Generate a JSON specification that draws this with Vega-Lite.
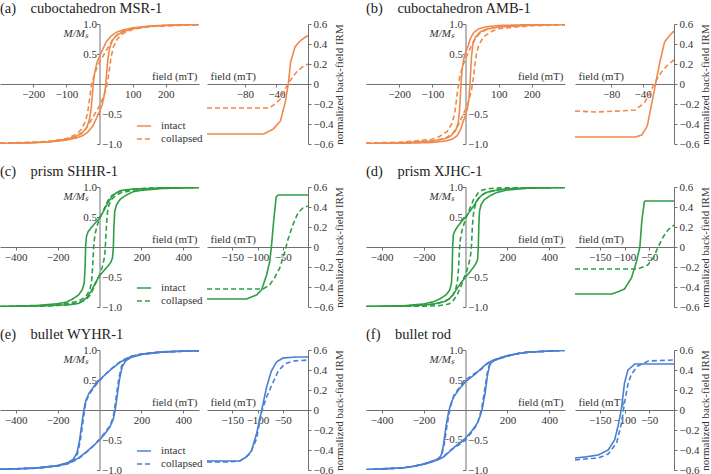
{
"$schema": "https://vega.github.io/schema/vega-lite/v6.json",
"padding": {"left": 0, "top": 0, "right": 0, "bottom": 0},
"config": {
 "font": "Liberation Serif",
 "view": {"stroke": null},
 "axis": {"domainColor": "#707070", "tickColor": "#707070", "labelColor": "#333333", "titleColor": "#333333", "labelFont": "Liberation Serif", "titleFont": "Liberation Serif", "labelFontSize": 11, "titleFontSize": 11, "titleFontWeight": "normal", "grid": false, "tickSize": 3, "labelFlush": false, "labelOverlap": false},
 "legend": {"labelFont": "Liberation Serif", "labelFontSize": 11, "labelColor": "#333333"},
 "title": {"anchor": "start", "fontSize": 14.5, "fontWeight": "normal", "font": "Liberation Serif", "color": "#222222", "offset": 2, "frame": "group"}
},
"datasets": {
"h": [
{"p":"a","s":"intact","r":"u","b":300,"m":0.995},{"p":"a","s":"intact","r":"u","b":200,"m":0.98},{"p":"a","s":"intact","r":"u","b":150,"m":0.965},{"p":"a","s":"intact","r":"u","b":100,"m":0.935},{"p":"a","s":"intact","r":"u","b":70,"m":0.9},{"p":"a","s":"intact","r":"u","b":50,"m":0.86},{"p":"a","s":"intact","r":"u","b":35,"m":0.8},{"p":"a","s":"intact","r":"u","b":20,"m":0.7},{"p":"a","s":"intact","r":"u","b":10,"m":0.58},{"p":"a","s":"intact","r":"u","b":0,"m":0.46},{"p":"a","s":"intact","r":"u","b":-8,"m":0.35},{"p":"a","s":"intact","r":"u","b":-14,"m":0.2},{"p":"a","s":"intact","r":"u","b":-18,"m":0.05},{"p":"a","s":"intact","r":"u","b":-21,"m":-0.15},{"p":"a","s":"intact","r":"u","b":-25,"m":-0.4},{"p":"a","s":"intact","r":"u","b":-30,"m":-0.58},{"p":"a","s":"intact","r":"u","b":-38,"m":-0.72},{"p":"a","s":"intact","r":"u","b":-50,"m":-0.8},{"p":"a","s":"intact","r":"u","b":-70,"m":-0.87},{"p":"a","s":"intact","r":"u","b":-100,"m":-0.92},{"p":"a","s":"intact","r":"u","b":-150,"m":-0.96},{"p":"a","s":"intact","r":"u","b":-200,"m":-0.975},{"p":"a","s":"intact","r":"u","b":-300,"m":-0.99},
{"p":"a","s":"intact","r":"l","b":-300,"m":-0.995},{"p":"a","s":"intact","r":"l","b":-200,"m":-0.98},{"p":"a","s":"intact","r":"l","b":-150,"m":-0.965},{"p":"a","s":"intact","r":"l","b":-100,"m":-0.935},{"p":"a","s":"intact","r":"l","b":-70,"m":-0.9},{"p":"a","s":"intact","r":"l","b":-50,"m":-0.86},{"p":"a","s":"intact","r":"l","b":-35,"m":-0.8},{"p":"a","s":"intact","r":"l","b":-20,"m":-0.7},{"p":"a","s":"intact","r":"l","b":-10,"m":-0.58},{"p":"a","s":"intact","r":"l","b":0,"m":-0.46},{"p":"a","s":"intact","r":"l","b":8,"m":-0.35},{"p":"a","s":"intact","r":"l","b":14,"m":-0.2},{"p":"a","s":"intact","r":"l","b":18,"m":-0.05},{"p":"a","s":"intact","r":"l","b":21,"m":0.15},{"p":"a","s":"intact","r":"l","b":25,"m":0.4},{"p":"a","s":"intact","r":"l","b":30,"m":0.58},{"p":"a","s":"intact","r":"l","b":38,"m":0.72},{"p":"a","s":"intact","r":"l","b":50,"m":0.8},{"p":"a","s":"intact","r":"l","b":70,"m":0.87},{"p":"a","s":"intact","r":"l","b":100,"m":0.92},{"p":"a","s":"intact","r":"l","b":150,"m":0.96},{"p":"a","s":"intact","r":"l","b":200,"m":0.975},{"p":"a","s":"intact","r":"l","b":300,"m":0.99},
{"p":"a","s":"collapsed","r":"u","b":300,"m":0.99},{"p":"a","s":"collapsed","r":"u","b":200,"m":0.975},{"p":"a","s":"collapsed","r":"u","b":150,"m":0.96},{"p":"a","s":"collapsed","r":"u","b":100,"m":0.93},{"p":"a","s":"collapsed","r":"u","b":70,"m":0.88},{"p":"a","s":"collapsed","r":"u","b":55,"m":0.83},{"p":"a","s":"collapsed","r":"u","b":40,"m":0.74},{"p":"a","s":"collapsed","r":"u","b":25,"m":0.6},{"p":"a","s":"collapsed","r":"u","b":10,"m":0.46},{"p":"a","s":"collapsed","r":"u","b":0,"m":0.36},{"p":"a","s":"collapsed","r":"u","b":-10,"m":0.24},{"p":"a","s":"collapsed","r":"u","b":-20,"m":0.08},{"p":"a","s":"collapsed","r":"u","b":-25,"m":-0.05},{"p":"a","s":"collapsed","r":"u","b":-30,"m":-0.25},{"p":"a","s":"collapsed","r":"u","b":-35,"m":-0.45},{"p":"a","s":"collapsed","r":"u","b":-42,"m":-0.62},{"p":"a","s":"collapsed","r":"u","b":-55,"m":-0.76},{"p":"a","s":"collapsed","r":"u","b":-70,"m":-0.84},{"p":"a","s":"collapsed","r":"u","b":-100,"m":-0.91},{"p":"a","s":"collapsed","r":"u","b":-150,"m":-0.955},{"p":"a","s":"collapsed","r":"u","b":-200,"m":-0.97},{"p":"a","s":"collapsed","r":"u","b":-300,"m":-0.985},
{"p":"a","s":"collapsed","r":"l","b":-300,"m":-0.99},{"p":"a","s":"collapsed","r":"l","b":-200,"m":-0.975},{"p":"a","s":"collapsed","r":"l","b":-150,"m":-0.96},{"p":"a","s":"collapsed","r":"l","b":-100,"m":-0.93},{"p":"a","s":"collapsed","r":"l","b":-70,"m":-0.88},{"p":"a","s":"collapsed","r":"l","b":-55,"m":-0.83},{"p":"a","s":"collapsed","r":"l","b":-40,"m":-0.74},{"p":"a","s":"collapsed","r":"l","b":-25,"m":-0.6},{"p":"a","s":"collapsed","r":"l","b":-10,"m":-0.46},{"p":"a","s":"collapsed","r":"l","b":0,"m":-0.36},{"p":"a","s":"collapsed","r":"l","b":10,"m":-0.24},{"p":"a","s":"collapsed","r":"l","b":20,"m":-0.08},{"p":"a","s":"collapsed","r":"l","b":25,"m":0.05},{"p":"a","s":"collapsed","r":"l","b":30,"m":0.25},{"p":"a","s":"collapsed","r":"l","b":35,"m":0.45},{"p":"a","s":"collapsed","r":"l","b":42,"m":0.62},{"p":"a","s":"collapsed","r":"l","b":55,"m":0.76},{"p":"a","s":"collapsed","r":"l","b":70,"m":0.84},{"p":"a","s":"collapsed","r":"l","b":100,"m":0.91},{"p":"a","s":"collapsed","r":"l","b":150,"m":0.955},{"p":"a","s":"collapsed","r":"l","b":200,"m":0.97},{"p":"a","s":"collapsed","r":"l","b":300,"m":0.985},
{"p":"b","s":"intact","r":"u","b":300,"m":0.998},{"p":"b","s":"intact","r":"u","b":200,"m":0.99},{"p":"b","s":"intact","r":"u","b":100,"m":0.975},{"p":"b","s":"intact","r":"u","b":60,"m":0.95},{"p":"b","s":"intact","r":"u","b":40,"m":0.92},{"p":"b","s":"intact","r":"u","b":25,"m":0.86},{"p":"b","s":"intact","r":"u","b":15,"m":0.76},{"p":"b","s":"intact","r":"u","b":8,"m":0.64},{"p":"b","s":"intact","r":"u","b":0,"m":0.52},{"p":"b","s":"intact","r":"u","b":-6,"m":0.4},{"p":"b","s":"intact","r":"u","b":-10,"m":0.25},{"p":"b","s":"intact","r":"u","b":-13,"m":0.05},{"p":"b","s":"intact","r":"u","b":-15,"m":-0.15},{"p":"b","s":"intact","r":"u","b":-18,"m":-0.45},{"p":"b","s":"intact","r":"u","b":-22,"m":-0.65},{"p":"b","s":"intact","r":"u","b":-30,"m":-0.78},{"p":"b","s":"intact","r":"u","b":-45,"m":-0.87},{"p":"b","s":"intact","r":"u","b":-60,"m":-0.91},{"p":"b","s":"intact","r":"u","b":-100,"m":-0.95},{"p":"b","s":"intact","r":"u","b":-200,"m":-0.98},{"p":"b","s":"intact","r":"u","b":-300,"m":-0.99},
{"p":"b","s":"intact","r":"l","b":-300,"m":-0.998},{"p":"b","s":"intact","r":"l","b":-200,"m":-0.99},{"p":"b","s":"intact","r":"l","b":-100,"m":-0.975},{"p":"b","s":"intact","r":"l","b":-60,"m":-0.95},{"p":"b","s":"intact","r":"l","b":-40,"m":-0.92},{"p":"b","s":"intact","r":"l","b":-25,"m":-0.86},{"p":"b","s":"intact","r":"l","b":-15,"m":-0.76},{"p":"b","s":"intact","r":"l","b":-8,"m":-0.64},{"p":"b","s":"intact","r":"l","b":0,"m":-0.52},{"p":"b","s":"intact","r":"l","b":6,"m":-0.4},{"p":"b","s":"intact","r":"l","b":10,"m":-0.25},{"p":"b","s":"intact","r":"l","b":13,"m":-0.05},{"p":"b","s":"intact","r":"l","b":15,"m":0.15},{"p":"b","s":"intact","r":"l","b":18,"m":0.45},{"p":"b","s":"intact","r":"l","b":22,"m":0.65},{"p":"b","s":"intact","r":"l","b":30,"m":0.78},{"p":"b","s":"intact","r":"l","b":45,"m":0.87},{"p":"b","s":"intact","r":"l","b":60,"m":0.91},{"p":"b","s":"intact","r":"l","b":100,"m":0.95},{"p":"b","s":"intact","r":"l","b":200,"m":0.98},{"p":"b","s":"intact","r":"l","b":300,"m":0.99},
{"p":"b","s":"collapsed","r":"u","b":300,"m":0.99},{"p":"b","s":"collapsed","r":"u","b":200,"m":0.98},{"p":"b","s":"collapsed","r":"u","b":100,"m":0.955},{"p":"b","s":"collapsed","r":"u","b":60,"m":0.9},{"p":"b","s":"collapsed","r":"u","b":40,"m":0.83},{"p":"b","s":"collapsed","r":"u","b":25,"m":0.72},{"p":"b","s":"collapsed","r":"u","b":12,"m":0.57},{"p":"b","s":"collapsed","r":"u","b":0,"m":0.42},{"p":"b","s":"collapsed","r":"u","b":-10,"m":0.28},{"p":"b","s":"collapsed","r":"u","b":-18,"m":0.1},{"p":"b","s":"collapsed","r":"u","b":-23,"m":-0.08},{"p":"b","s":"collapsed","r":"u","b":-28,"m":-0.3},{"p":"b","s":"collapsed","r":"u","b":-33,"m":-0.5},{"p":"b","s":"collapsed","r":"u","b":-40,"m":-0.65},{"p":"b","s":"collapsed","r":"u","b":-55,"m":-0.79},{"p":"b","s":"collapsed","r":"u","b":-80,"m":-0.88},{"p":"b","s":"collapsed","r":"u","b":-100,"m":-0.92},{"p":"b","s":"collapsed","r":"u","b":-150,"m":-0.95},{"p":"b","s":"collapsed","r":"u","b":-200,"m":-0.97},{"p":"b","s":"collapsed","r":"u","b":-300,"m":-0.985},
{"p":"b","s":"collapsed","r":"l","b":-300,"m":-0.99},{"p":"b","s":"collapsed","r":"l","b":-200,"m":-0.98},{"p":"b","s":"collapsed","r":"l","b":-100,"m":-0.955},{"p":"b","s":"collapsed","r":"l","b":-60,"m":-0.9},{"p":"b","s":"collapsed","r":"l","b":-40,"m":-0.83},{"p":"b","s":"collapsed","r":"l","b":-25,"m":-0.72},{"p":"b","s":"collapsed","r":"l","b":-12,"m":-0.57},{"p":"b","s":"collapsed","r":"l","b":0,"m":-0.42},{"p":"b","s":"collapsed","r":"l","b":10,"m":-0.28},{"p":"b","s":"collapsed","r":"l","b":18,"m":-0.1},{"p":"b","s":"collapsed","r":"l","b":23,"m":0.08},{"p":"b","s":"collapsed","r":"l","b":28,"m":0.3},{"p":"b","s":"collapsed","r":"l","b":33,"m":0.5},{"p":"b","s":"collapsed","r":"l","b":40,"m":0.65},{"p":"b","s":"collapsed","r":"l","b":55,"m":0.79},{"p":"b","s":"collapsed","r":"l","b":80,"m":0.88},{"p":"b","s":"collapsed","r":"l","b":100,"m":0.92},{"p":"b","s":"collapsed","r":"l","b":150,"m":0.95},{"p":"b","s":"collapsed","r":"l","b":200,"m":0.97},{"p":"b","s":"collapsed","r":"l","b":300,"m":0.985},
{"p":"c","s":"intact","r":"u","b":475,"m":0.995},{"p":"c","s":"intact","r":"u","b":300,"m":0.985},{"p":"c","s":"intact","r":"u","b":200,"m":0.97},{"p":"c","s":"intact","r":"u","b":160,"m":0.965},{"p":"c","s":"intact","r":"u","b":130,"m":0.955},{"p":"c","s":"intact","r":"u","b":100,"m":0.94},{"p":"c","s":"intact","r":"u","b":80,"m":0.9},{"p":"c","s":"intact","r":"u","b":60,"m":0.84},{"p":"c","s":"intact","r":"u","b":40,"m":0.74},{"p":"c","s":"intact","r":"u","b":20,"m":0.6},{"p":"c","s":"intact","r":"u","b":0,"m":0.48},{"p":"c","s":"intact","r":"u","b":-20,"m":0.4},{"p":"c","s":"intact","r":"u","b":-40,"m":0.32},{"p":"c","s":"intact","r":"u","b":-55,"m":0.25},{"p":"c","s":"intact","r":"u","b":-62,"m":0.18},{"p":"c","s":"intact","r":"u","b":-66,"m":0.02},{"p":"c","s":"intact","r":"u","b":-69,"m":-0.35},{"p":"c","s":"intact","r":"u","b":-73,"m":-0.6},{"p":"c","s":"intact","r":"u","b":-82,"m":-0.71},{"p":"c","s":"intact","r":"u","b":-100,"m":-0.8},{"p":"c","s":"intact","r":"u","b":-130,"m":-0.87},{"p":"c","s":"intact","r":"u","b":-160,"m":-0.92},{"p":"c","s":"intact","r":"u","b":-200,"m":-0.945},{"p":"c","s":"intact","r":"u","b":-300,"m":-0.975},{"p":"c","s":"intact","r":"u","b":-475,"m":-0.99},
{"p":"c","s":"intact","r":"l","b":-475,"m":-0.995},{"p":"c","s":"intact","r":"l","b":-300,"m":-0.985},{"p":"c","s":"intact","r":"l","b":-200,"m":-0.97},{"p":"c","s":"intact","r":"l","b":-160,"m":-0.965},{"p":"c","s":"intact","r":"l","b":-130,"m":-0.955},{"p":"c","s":"intact","r":"l","b":-100,"m":-0.94},{"p":"c","s":"intact","r":"l","b":-80,"m":-0.9},{"p":"c","s":"intact","r":"l","b":-60,"m":-0.84},{"p":"c","s":"intact","r":"l","b":-40,"m":-0.74},{"p":"c","s":"intact","r":"l","b":-20,"m":-0.6},{"p":"c","s":"intact","r":"l","b":0,"m":-0.48},{"p":"c","s":"intact","r":"l","b":20,"m":-0.4},{"p":"c","s":"intact","r":"l","b":40,"m":-0.32},{"p":"c","s":"intact","r":"l","b":55,"m":-0.25},{"p":"c","s":"intact","r":"l","b":62,"m":-0.18},{"p":"c","s":"intact","r":"l","b":66,"m":-0.02},{"p":"c","s":"intact","r":"l","b":69,"m":0.35},{"p":"c","s":"intact","r":"l","b":73,"m":0.6},{"p":"c","s":"intact","r":"l","b":82,"m":0.71},{"p":"c","s":"intact","r":"l","b":100,"m":0.8},{"p":"c","s":"intact","r":"l","b":130,"m":0.87},{"p":"c","s":"intact","r":"l","b":160,"m":0.92},{"p":"c","s":"intact","r":"l","b":200,"m":0.945},{"p":"c","s":"intact","r":"l","b":300,"m":0.975},{"p":"c","s":"intact","r":"l","b":475,"m":0.99},
{"p":"c","s":"collapsed","r":"u","b":475,"m":0.995},{"p":"c","s":"collapsed","r":"u","b":300,"m":0.99},{"p":"c","s":"collapsed","r":"u","b":200,"m":0.975},{"p":"c","s":"collapsed","r":"u","b":150,"m":0.96},{"p":"c","s":"collapsed","r":"u","b":100,"m":0.93},{"p":"c","s":"collapsed","r":"u","b":80,"m":0.9},{"p":"c","s":"collapsed","r":"u","b":60,"m":0.86},{"p":"c","s":"collapsed","r":"u","b":45,"m":0.8},{"p":"c","s":"collapsed","r":"u","b":30,"m":0.7},{"p":"c","s":"collapsed","r":"u","b":15,"m":0.58},{"p":"c","s":"collapsed","r":"u","b":0,"m":0.47},{"p":"c","s":"collapsed","r":"u","b":-12,"m":0.35},{"p":"c","s":"collapsed","r":"u","b":-22,"m":0.2},{"p":"c","s":"collapsed","r":"u","b":-27,"m":0.05},{"p":"c","s":"collapsed","r":"u","b":-30,"m":-0.15},{"p":"c","s":"collapsed","r":"u","b":-34,"m":-0.4},{"p":"c","s":"collapsed","r":"u","b":-38,"m":-0.58},{"p":"c","s":"collapsed","r":"u","b":-45,"m":-0.7},{"p":"c","s":"collapsed","r":"u","b":-60,"m":-0.8},{"p":"c","s":"collapsed","r":"u","b":-80,"m":-0.86},{"p":"c","s":"collapsed","r":"u","b":-100,"m":-0.9},{"p":"c","s":"collapsed","r":"u","b":-150,"m":-0.94},{"p":"c","s":"collapsed","r":"u","b":-200,"m":-0.965},{"p":"c","s":"collapsed","r":"u","b":-300,"m":-0.985},{"p":"c","s":"collapsed","r":"u","b":-475,"m":-0.995},
{"p":"c","s":"collapsed","r":"l","b":-475,"m":-0.995},{"p":"c","s":"collapsed","r":"l","b":-300,"m":-0.99},{"p":"c","s":"collapsed","r":"l","b":-200,"m":-0.975},{"p":"c","s":"collapsed","r":"l","b":-150,"m":-0.96},{"p":"c","s":"collapsed","r":"l","b":-100,"m":-0.93},{"p":"c","s":"collapsed","r":"l","b":-80,"m":-0.9},{"p":"c","s":"collapsed","r":"l","b":-60,"m":-0.86},{"p":"c","s":"collapsed","r":"l","b":-45,"m":-0.8},{"p":"c","s":"collapsed","r":"l","b":-30,"m":-0.7},{"p":"c","s":"collapsed","r":"l","b":-15,"m":-0.58},{"p":"c","s":"collapsed","r":"l","b":0,"m":-0.47},{"p":"c","s":"collapsed","r":"l","b":12,"m":-0.35},{"p":"c","s":"collapsed","r":"l","b":22,"m":-0.2},{"p":"c","s":"collapsed","r":"l","b":27,"m":-0.05},{"p":"c","s":"collapsed","r":"l","b":30,"m":0.15},{"p":"c","s":"collapsed","r":"l","b":34,"m":0.4},{"p":"c","s":"collapsed","r":"l","b":38,"m":0.58},{"p":"c","s":"collapsed","r":"l","b":45,"m":0.7},{"p":"c","s":"collapsed","r":"l","b":60,"m":0.8},{"p":"c","s":"collapsed","r":"l","b":80,"m":0.86},{"p":"c","s":"collapsed","r":"l","b":100,"m":0.9},{"p":"c","s":"collapsed","r":"l","b":150,"m":0.94},{"p":"c","s":"collapsed","r":"l","b":200,"m":0.965},{"p":"c","s":"collapsed","r":"l","b":300,"m":0.985},{"p":"c","s":"collapsed","r":"l","b":475,"m":0.995},
{"p":"d","s":"intact","r":"u","b":475,"m":0.995},{"p":"d","s":"intact","r":"u","b":300,"m":0.985},{"p":"d","s":"intact","r":"u","b":200,"m":0.97},{"p":"d","s":"intact","r":"u","b":150,"m":0.95},{"p":"d","s":"intact","r":"u","b":100,"m":0.91},{"p":"d","s":"intact","r":"u","b":80,"m":0.87},{"p":"d","s":"intact","r":"u","b":60,"m":0.8},{"p":"d","s":"intact","r":"u","b":40,"m":0.69},{"p":"d","s":"intact","r":"u","b":20,"m":0.59},{"p":"d","s":"intact","r":"u","b":0,"m":0.5},{"p":"d","s":"intact","r":"u","b":-20,"m":0.42},{"p":"d","s":"intact","r":"u","b":-40,"m":0.33},{"p":"d","s":"intact","r":"u","b":-52,"m":0.26},{"p":"d","s":"intact","r":"u","b":-58,"m":0.2},{"p":"d","s":"intact","r":"u","b":-61,"m":0.02},{"p":"d","s":"intact","r":"u","b":-64,"m":-0.4},{"p":"d","s":"intact","r":"u","b":-67,"m":-0.6},{"p":"d","s":"intact","r":"u","b":-75,"m":-0.71},{"p":"d","s":"intact","r":"u","b":-90,"m":-0.79},{"p":"d","s":"intact","r":"u","b":-120,"m":-0.86},{"p":"d","s":"intact","r":"u","b":-150,"m":-0.91},{"p":"d","s":"intact","r":"u","b":-200,"m":-0.95},{"p":"d","s":"intact","r":"u","b":-300,"m":-0.98},{"p":"d","s":"intact","r":"u","b":-475,"m":-0.99},
{"p":"d","s":"intact","r":"l","b":-475,"m":-0.995},{"p":"d","s":"intact","r":"l","b":-300,"m":-0.985},{"p":"d","s":"intact","r":"l","b":-200,"m":-0.97},{"p":"d","s":"intact","r":"l","b":-150,"m":-0.95},{"p":"d","s":"intact","r":"l","b":-100,"m":-0.91},{"p":"d","s":"intact","r":"l","b":-80,"m":-0.87},{"p":"d","s":"intact","r":"l","b":-60,"m":-0.8},{"p":"d","s":"intact","r":"l","b":-40,"m":-0.69},{"p":"d","s":"intact","r":"l","b":-20,"m":-0.59},{"p":"d","s":"intact","r":"l","b":0,"m":-0.5},{"p":"d","s":"intact","r":"l","b":20,"m":-0.42},{"p":"d","s":"intact","r":"l","b":40,"m":-0.33},{"p":"d","s":"intact","r":"l","b":52,"m":-0.26},{"p":"d","s":"intact","r":"l","b":58,"m":-0.2},{"p":"d","s":"intact","r":"l","b":61,"m":-0.02},{"p":"d","s":"intact","r":"l","b":64,"m":0.4},{"p":"d","s":"intact","r":"l","b":67,"m":0.6},{"p":"d","s":"intact","r":"l","b":75,"m":0.71},{"p":"d","s":"intact","r":"l","b":90,"m":0.79},{"p":"d","s":"intact","r":"l","b":120,"m":0.86},{"p":"d","s":"intact","r":"l","b":150,"m":0.91},{"p":"d","s":"intact","r":"l","b":200,"m":0.95},{"p":"d","s":"intact","r":"l","b":300,"m":0.98},{"p":"d","s":"intact","r":"l","b":475,"m":0.99},
{"p":"d","s":"collapsed","r":"u","b":475,"m":0.998},{"p":"d","s":"collapsed","r":"u","b":300,"m":0.995},{"p":"d","s":"collapsed","r":"u","b":200,"m":0.99},{"p":"d","s":"collapsed","r":"u","b":120,"m":0.975},{"p":"d","s":"collapsed","r":"u","b":80,"m":0.95},{"p":"d","s":"collapsed","r":"u","b":60,"m":0.9},{"p":"d","s":"collapsed","r":"u","b":40,"m":0.8},{"p":"d","s":"collapsed","r":"u","b":25,"m":0.68},{"p":"d","s":"collapsed","r":"u","b":10,"m":0.55},{"p":"d","s":"collapsed","r":"u","b":0,"m":0.46},{"p":"d","s":"collapsed","r":"u","b":-15,"m":0.3},{"p":"d","s":"collapsed","r":"u","b":-25,"m":0.12},{"p":"d","s":"collapsed","r":"u","b":-29,"m":-0.05},{"p":"d","s":"collapsed","r":"u","b":-33,"m":-0.35},{"p":"d","s":"collapsed","r":"u","b":-38,"m":-0.55},{"p":"d","s":"collapsed","r":"u","b":-45,"m":-0.68},{"p":"d","s":"collapsed","r":"u","b":-60,"m":-0.8},{"p":"d","s":"collapsed","r":"u","b":-80,"m":-0.87},{"p":"d","s":"collapsed","r":"u","b":-100,"m":-0.91},{"p":"d","s":"collapsed","r":"u","b":-150,"m":-0.95},{"p":"d","s":"collapsed","r":"u","b":-200,"m":-0.97},{"p":"d","s":"collapsed","r":"u","b":-300,"m":-0.985},{"p":"d","s":"collapsed","r":"u","b":-475,"m":-0.995},
{"p":"d","s":"collapsed","r":"l","b":-475,"m":-0.998},{"p":"d","s":"collapsed","r":"l","b":-300,"m":-0.995},{"p":"d","s":"collapsed","r":"l","b":-200,"m":-0.99},{"p":"d","s":"collapsed","r":"l","b":-120,"m":-0.975},{"p":"d","s":"collapsed","r":"l","b":-80,"m":-0.95},{"p":"d","s":"collapsed","r":"l","b":-60,"m":-0.9},{"p":"d","s":"collapsed","r":"l","b":-40,"m":-0.8},{"p":"d","s":"collapsed","r":"l","b":-25,"m":-0.68},{"p":"d","s":"collapsed","r":"l","b":-10,"m":-0.55},{"p":"d","s":"collapsed","r":"l","b":0,"m":-0.46},{"p":"d","s":"collapsed","r":"l","b":15,"m":-0.3},{"p":"d","s":"collapsed","r":"l","b":25,"m":-0.12},{"p":"d","s":"collapsed","r":"l","b":29,"m":0.05},{"p":"d","s":"collapsed","r":"l","b":33,"m":0.35},{"p":"d","s":"collapsed","r":"l","b":38,"m":0.55},{"p":"d","s":"collapsed","r":"l","b":45,"m":0.68},{"p":"d","s":"collapsed","r":"l","b":60,"m":0.8},{"p":"d","s":"collapsed","r":"l","b":80,"m":0.87},{"p":"d","s":"collapsed","r":"l","b":100,"m":0.91},{"p":"d","s":"collapsed","r":"l","b":150,"m":0.95},{"p":"d","s":"collapsed","r":"l","b":200,"m":0.97},{"p":"d","s":"collapsed","r":"l","b":300,"m":0.985},{"p":"d","s":"collapsed","r":"l","b":475,"m":0.995},
{"p":"e","s":"intact","r":"u","b":475,"m":0.99},{"p":"e","s":"intact","r":"u","b":300,"m":0.97},{"p":"e","s":"intact","r":"u","b":200,"m":0.93},{"p":"e","s":"intact","r":"u","b":150,"m":0.89},{"p":"e","s":"intact","r":"u","b":125,"m":0.845},{"p":"e","s":"intact","r":"u","b":100,"m":0.8},{"p":"e","s":"intact","r":"u","b":60,"m":0.69},{"p":"e","s":"intact","r":"u","b":30,"m":0.6},{"p":"e","s":"intact","r":"u","b":0,"m":0.5},{"p":"e","s":"intact","r":"u","b":-25,"m":0.4},{"p":"e","s":"intact","r":"u","b":-50,"m":0.28},{"p":"e","s":"intact","r":"u","b":-65,"m":0.16},{"p":"e","s":"intact","r":"u","b":-75,"m":0.0},{"p":"e","s":"intact","r":"u","b":-85,"m":-0.25},{"p":"e","s":"intact","r":"u","b":-95,"m":-0.5},{"p":"e","s":"intact","r":"u","b":-108,"m":-0.72},{"p":"e","s":"intact","r":"u","b":-125,"m":-0.82},{"p":"e","s":"intact","r":"u","b":-150,"m":-0.875},{"p":"e","s":"intact","r":"u","b":-200,"m":-0.925},{"p":"e","s":"intact","r":"u","b":-300,"m":-0.965},{"p":"e","s":"intact","r":"u","b":-475,"m":-0.99},
{"p":"e","s":"intact","r":"l","b":-475,"m":-0.99},{"p":"e","s":"intact","r":"l","b":-300,"m":-0.97},{"p":"e","s":"intact","r":"l","b":-200,"m":-0.93},{"p":"e","s":"intact","r":"l","b":-150,"m":-0.89},{"p":"e","s":"intact","r":"l","b":-125,"m":-0.845},{"p":"e","s":"intact","r":"l","b":-100,"m":-0.8},{"p":"e","s":"intact","r":"l","b":-60,"m":-0.69},{"p":"e","s":"intact","r":"l","b":-30,"m":-0.6},{"p":"e","s":"intact","r":"l","b":0,"m":-0.5},{"p":"e","s":"intact","r":"l","b":25,"m":-0.4},{"p":"e","s":"intact","r":"l","b":50,"m":-0.28},{"p":"e","s":"intact","r":"l","b":65,"m":-0.16},{"p":"e","s":"intact","r":"l","b":75,"m":0.0},{"p":"e","s":"intact","r":"l","b":85,"m":0.25},{"p":"e","s":"intact","r":"l","b":95,"m":0.5},{"p":"e","s":"intact","r":"l","b":108,"m":0.72},{"p":"e","s":"intact","r":"l","b":125,"m":0.82},{"p":"e","s":"intact","r":"l","b":150,"m":0.875},{"p":"e","s":"intact","r":"l","b":200,"m":0.925},{"p":"e","s":"intact","r":"l","b":300,"m":0.965},{"p":"e","s":"intact","r":"l","b":475,"m":0.99},
{"p":"e","s":"collapsed","r":"u","b":475,"m":0.99},{"p":"e","s":"collapsed","r":"u","b":300,"m":0.97},{"p":"e","s":"collapsed","r":"u","b":200,"m":0.935},{"p":"e","s":"collapsed","r":"u","b":150,"m":0.895},{"p":"e","s":"collapsed","r":"u","b":125,"m":0.855},{"p":"e","s":"collapsed","r":"u","b":100,"m":0.81},{"p":"e","s":"collapsed","r":"u","b":60,"m":0.7},{"p":"e","s":"collapsed","r":"u","b":30,"m":0.6},{"p":"e","s":"collapsed","r":"u","b":0,"m":0.49},{"p":"e","s":"collapsed","r":"u","b":-25,"m":0.38},{"p":"e","s":"collapsed","r":"u","b":-50,"m":0.26},{"p":"e","s":"collapsed","r":"u","b":-65,"m":0.13},{"p":"e","s":"collapsed","r":"u","b":-72,"m":-0.02},{"p":"e","s":"collapsed","r":"u","b":-82,"m":-0.28},{"p":"e","s":"collapsed","r":"u","b":-92,"m":-0.52},{"p":"e","s":"collapsed","r":"u","b":-105,"m":-0.73},{"p":"e","s":"collapsed","r":"u","b":-125,"m":-0.835},{"p":"e","s":"collapsed","r":"u","b":-150,"m":-0.885},{"p":"e","s":"collapsed","r":"u","b":-200,"m":-0.93},{"p":"e","s":"collapsed","r":"u","b":-300,"m":-0.965},{"p":"e","s":"collapsed","r":"u","b":-475,"m":-0.99},
{"p":"e","s":"collapsed","r":"l","b":-475,"m":-0.99},{"p":"e","s":"collapsed","r":"l","b":-300,"m":-0.97},{"p":"e","s":"collapsed","r":"l","b":-200,"m":-0.935},{"p":"e","s":"collapsed","r":"l","b":-150,"m":-0.895},{"p":"e","s":"collapsed","r":"l","b":-125,"m":-0.855},{"p":"e","s":"collapsed","r":"l","b":-100,"m":-0.81},{"p":"e","s":"collapsed","r":"l","b":-60,"m":-0.7},{"p":"e","s":"collapsed","r":"l","b":-30,"m":-0.6},{"p":"e","s":"collapsed","r":"l","b":0,"m":-0.49},{"p":"e","s":"collapsed","r":"l","b":25,"m":-0.38},{"p":"e","s":"collapsed","r":"l","b":50,"m":-0.26},{"p":"e","s":"collapsed","r":"l","b":65,"m":-0.13},{"p":"e","s":"collapsed","r":"l","b":72,"m":0.02},{"p":"e","s":"collapsed","r":"l","b":82,"m":0.28},{"p":"e","s":"collapsed","r":"l","b":92,"m":0.52},{"p":"e","s":"collapsed","r":"l","b":105,"m":0.73},{"p":"e","s":"collapsed","r":"l","b":125,"m":0.835},{"p":"e","s":"collapsed","r":"l","b":150,"m":0.885},{"p":"e","s":"collapsed","r":"l","b":200,"m":0.93},{"p":"e","s":"collapsed","r":"l","b":300,"m":0.965},{"p":"e","s":"collapsed","r":"l","b":475,"m":0.99},
{"p":"f","s":"intact","r":"u","b":475,"m":0.995},{"p":"f","s":"intact","r":"u","b":300,"m":0.965},{"p":"f","s":"intact","r":"u","b":250,"m":0.94},{"p":"f","s":"intact","r":"u","b":200,"m":0.905},{"p":"f","s":"intact","r":"u","b":170,"m":0.875},{"p":"f","s":"intact","r":"u","b":136,"m":0.835},{"p":"f","s":"intact","r":"u","b":120,"m":0.81},{"p":"f","s":"intact","r":"u","b":100,"m":0.77},{"p":"f","s":"intact","r":"u","b":72,"m":0.68},{"p":"f","s":"intact","r":"u","b":40,"m":0.58},{"p":"f","s":"intact","r":"u","b":0,"m":0.47},{"p":"f","s":"intact","r":"u","b":-30,"m":0.35},{"p":"f","s":"intact","r":"u","b":-56,"m":0.22},{"p":"f","s":"intact","r":"u","b":-70,"m":0.1},{"p":"f","s":"intact","r":"u","b":-80,"m":-0.02},{"p":"f","s":"intact","r":"u","b":-93,"m":-0.27},{"p":"f","s":"intact","r":"u","b":-106,"m":-0.6},{"p":"f","s":"intact","r":"u","b":-115,"m":-0.74},{"p":"f","s":"intact","r":"u","b":-122,"m":-0.785},{"p":"f","s":"intact","r":"u","b":-136,"m":-0.825},{"p":"f","s":"intact","r":"u","b":-170,"m":-0.865},{"p":"f","s":"intact","r":"u","b":-200,"m":-0.9},{"p":"f","s":"intact","r":"u","b":-250,"m":-0.94},{"p":"f","s":"intact","r":"u","b":-300,"m":-0.965},{"p":"f","s":"intact","r":"u","b":-475,"m":-0.995},
{"p":"f","s":"intact","r":"l","b":-475,"m":-0.995},{"p":"f","s":"intact","r":"l","b":-300,"m":-0.965},{"p":"f","s":"intact","r":"l","b":-250,"m":-0.94},{"p":"f","s":"intact","r":"l","b":-200,"m":-0.905},{"p":"f","s":"intact","r":"l","b":-170,"m":-0.875},{"p":"f","s":"intact","r":"l","b":-136,"m":-0.835},{"p":"f","s":"intact","r":"l","b":-120,"m":-0.81},{"p":"f","s":"intact","r":"l","b":-100,"m":-0.77},{"p":"f","s":"intact","r":"l","b":-72,"m":-0.68},{"p":"f","s":"intact","r":"l","b":-40,"m":-0.58},{"p":"f","s":"intact","r":"l","b":0,"m":-0.47},{"p":"f","s":"intact","r":"l","b":30,"m":-0.35},{"p":"f","s":"intact","r":"l","b":56,"m":-0.22},{"p":"f","s":"intact","r":"l","b":70,"m":-0.1},{"p":"f","s":"intact","r":"l","b":80,"m":0.02},{"p":"f","s":"intact","r":"l","b":93,"m":0.27},{"p":"f","s":"intact","r":"l","b":106,"m":0.6},{"p":"f","s":"intact","r":"l","b":115,"m":0.74},{"p":"f","s":"intact","r":"l","b":122,"m":0.785},{"p":"f","s":"intact","r":"l","b":136,"m":0.825},{"p":"f","s":"intact","r":"l","b":170,"m":0.865},{"p":"f","s":"intact","r":"l","b":200,"m":0.9},{"p":"f","s":"intact","r":"l","b":250,"m":0.94},{"p":"f","s":"intact","r":"l","b":300,"m":0.965},{"p":"f","s":"intact","r":"l","b":475,"m":0.995},
{"p":"f","s":"collapsed","r":"u","b":475,"m":0.995},{"p":"f","s":"collapsed","r":"u","b":300,"m":0.965},{"p":"f","s":"collapsed","r":"u","b":250,"m":0.94},{"p":"f","s":"collapsed","r":"u","b":200,"m":0.905},{"p":"f","s":"collapsed","r":"u","b":170,"m":0.875},{"p":"f","s":"collapsed","r":"u","b":136,"m":0.835},{"p":"f","s":"collapsed","r":"u","b":120,"m":0.805},{"p":"f","s":"collapsed","r":"u","b":100,"m":0.76},{"p":"f","s":"collapsed","r":"u","b":72,"m":0.67},{"p":"f","s":"collapsed","r":"u","b":40,"m":0.6},{"p":"f","s":"collapsed","r":"u","b":0,"m":0.5},{"p":"f","s":"collapsed","r":"u","b":-30,"m":0.37},{"p":"f","s":"collapsed","r":"u","b":-56,"m":0.24},{"p":"f","s":"collapsed","r":"u","b":-68,"m":0.1},{"p":"f","s":"collapsed","r":"u","b":-78,"m":-0.05},{"p":"f","s":"collapsed","r":"u","b":-90,"m":-0.3},{"p":"f","s":"collapsed","r":"u","b":-103,"m":-0.6},{"p":"f","s":"collapsed","r":"u","b":-113,"m":-0.74},{"p":"f","s":"collapsed","r":"u","b":-122,"m":-0.79},{"p":"f","s":"collapsed","r":"u","b":-136,"m":-0.825},{"p":"f","s":"collapsed","r":"u","b":-170,"m":-0.865},{"p":"f","s":"collapsed","r":"u","b":-200,"m":-0.9},{"p":"f","s":"collapsed","r":"u","b":-250,"m":-0.94},{"p":"f","s":"collapsed","r":"u","b":-300,"m":-0.965},{"p":"f","s":"collapsed","r":"u","b":-475,"m":-0.995},
{"p":"f","s":"collapsed","r":"l","b":-475,"m":-0.995},{"p":"f","s":"collapsed","r":"l","b":-300,"m":-0.965},{"p":"f","s":"collapsed","r":"l","b":-250,"m":-0.94},{"p":"f","s":"collapsed","r":"l","b":-200,"m":-0.905},{"p":"f","s":"collapsed","r":"l","b":-170,"m":-0.875},{"p":"f","s":"collapsed","r":"l","b":-136,"m":-0.835},{"p":"f","s":"collapsed","r":"l","b":-120,"m":-0.805},{"p":"f","s":"collapsed","r":"l","b":-100,"m":-0.76},{"p":"f","s":"collapsed","r":"l","b":-72,"m":-0.67},{"p":"f","s":"collapsed","r":"l","b":-40,"m":-0.6},{"p":"f","s":"collapsed","r":"l","b":0,"m":-0.5},{"p":"f","s":"collapsed","r":"l","b":30,"m":-0.37},{"p":"f","s":"collapsed","r":"l","b":56,"m":-0.24},{"p":"f","s":"collapsed","r":"l","b":68,"m":-0.1},{"p":"f","s":"collapsed","r":"l","b":78,"m":0.05},{"p":"f","s":"collapsed","r":"l","b":90,"m":0.3},{"p":"f","s":"collapsed","r":"l","b":103,"m":0.6},{"p":"f","s":"collapsed","r":"l","b":113,"m":0.74},{"p":"f","s":"collapsed","r":"l","b":122,"m":0.79},{"p":"f","s":"collapsed","r":"l","b":136,"m":0.825},{"p":"f","s":"collapsed","r":"l","b":170,"m":0.865},{"p":"f","s":"collapsed","r":"l","b":200,"m":0.9},{"p":"f","s":"collapsed","r":"l","b":250,"m":0.94},{"p":"f","s":"collapsed","r":"l","b":300,"m":0.965},{"p":"f","s":"collapsed","r":"l","b":475,"m":0.995}
],
"f": [
{"p":"a","s":"intact","b":-128,"m":-0.5},{"p":"a","s":"intact","b":-100,"m":-0.5},{"p":"a","s":"intact","b":-70,"m":-0.5},{"p":"a","s":"intact","b":-56,"m":-0.5},{"p":"a","s":"intact","b":-44,"m":-0.45},{"p":"a","s":"intact","b":-35,"m":-0.37},{"p":"a","s":"intact","b":-29,"m":-0.19},{"p":"a","s":"intact","b":-25,"m":0.0},{"p":"a","s":"intact","b":-22,"m":0.22},{"p":"a","s":"intact","b":-16.5,"m":0.37},{"p":"a","s":"intact","b":-10,"m":0.43},{"p":"a","s":"intact","b":-5,"m":0.46},{"p":"a","s":"intact","b":0,"m":0.485},
{"p":"a","s":"collapsed","b":-128,"m":-0.24},{"p":"a","s":"collapsed","b":-100,"m":-0.24},{"p":"a","s":"collapsed","b":-70,"m":-0.24},{"p":"a","s":"collapsed","b":-49,"m":-0.24},{"p":"a","s":"collapsed","b":-42,"m":-0.2},{"p":"a","s":"collapsed","b":-35,"m":-0.15},{"p":"a","s":"collapsed","b":-29,"m":-0.05},{"p":"a","s":"collapsed","b":-23,"m":0.03},{"p":"a","s":"collapsed","b":-14.5,"m":0.12},{"p":"a","s":"collapsed","b":-7,"m":0.17},{"p":"a","s":"collapsed","b":0,"m":0.2},
{"p":"b","s":"intact","b":-126,"m":-0.53},{"p":"b","s":"intact","b":-100,"m":-0.53},{"p":"b","s":"intact","b":-70,"m":-0.53},{"p":"b","s":"intact","b":-49,"m":-0.53},{"p":"b","s":"intact","b":-41,"m":-0.51},{"p":"b","s":"intact","b":-34,"m":-0.42},{"p":"b","s":"intact","b":-28,"m":-0.18},{"p":"b","s":"intact","b":-23,"m":0.02},{"p":"b","s":"intact","b":-18,"m":0.22},{"p":"b","s":"intact","b":-12,"m":0.42},{"p":"b","s":"intact","b":-5,"m":0.49},{"p":"b","s":"intact","b":0,"m":0.53},
{"p":"b","s":"collapsed","b":-126,"m":-0.27},{"p":"b","s":"collapsed","b":-100,"m":-0.28},{"p":"b","s":"collapsed","b":-70,"m":-0.27},{"p":"b","s":"collapsed","b":-49,"m":-0.26},{"p":"b","s":"collapsed","b":-37,"m":-0.18},{"p":"b","s":"collapsed","b":-30,"m":-0.08},{"p":"b","s":"collapsed","b":-24,"m":0.02},{"p":"b","s":"collapsed","b":-16,"m":0.12},{"p":"b","s":"collapsed","b":-8,"m":0.19},{"p":"b","s":"collapsed","b":0,"m":0.24},
{"p":"c","s":"intact","b":-200,"m":-0.52},{"p":"c","s":"intact","b":-150,"m":-0.52},{"p":"c","s":"intact","b":-122,"m":-0.52},{"p":"c","s":"intact","b":-102,"m":-0.48},{"p":"c","s":"intact","b":-92,"m":-0.43},{"p":"c","s":"intact","b":-82,"m":-0.28},{"p":"c","s":"intact","b":-76,"m":-0.15},{"p":"c","s":"intact","b":-72.5,"m":0.0},{"p":"c","s":"intact","b":-68,"m":0.26},{"p":"c","s":"intact","b":-63,"m":0.5},{"p":"c","s":"intact","b":-59,"m":0.52},{"p":"c","s":"intact","b":-30,"m":0.52},{"p":"c","s":"intact","b":0,"m":0.52},
{"p":"c","s":"collapsed","b":-200,"m":-0.42},{"p":"c","s":"collapsed","b":-150,"m":-0.42},{"p":"c","s":"collapsed","b":-110,"m":-0.42},{"p":"c","s":"collapsed","b":-89,"m":-0.42},{"p":"c","s":"collapsed","b":-76,"m":-0.38},{"p":"c","s":"collapsed","b":-66.5,"m":-0.31},{"p":"c","s":"collapsed","b":-56,"m":-0.21},{"p":"c","s":"collapsed","b":-46,"m":-0.05},{"p":"c","s":"collapsed","b":-40,"m":0.07},{"p":"c","s":"collapsed","b":-30,"m":0.22},{"p":"c","s":"collapsed","b":-20,"m":0.34},{"p":"c","s":"collapsed","b":-10,"m":0.39},{"p":"c","s":"collapsed","b":0,"m":0.41},
{"p":"d","s":"intact","b":-200,"m":-0.47},{"p":"d","s":"intact","b":-150,"m":-0.47},{"p":"d","s":"intact","b":-126,"m":-0.47},{"p":"d","s":"intact","b":-114,"m":-0.45},{"p":"d","s":"intact","b":-100,"m":-0.42},{"p":"d","s":"intact","b":-86,"m":-0.31},{"p":"d","s":"intact","b":-76,"m":-0.15},{"p":"d","s":"intact","b":-69,"m":0.0},{"p":"d","s":"intact","b":-65,"m":0.26},{"p":"d","s":"intact","b":-60,"m":0.45},{"p":"d","s":"intact","b":-58,"m":0.46},{"p":"d","s":"intact","b":-30,"m":0.46},{"p":"d","s":"intact","b":0,"m":0.46},
{"p":"d","s":"collapsed","b":-200,"m":-0.22},{"p":"d","s":"collapsed","b":-150,"m":-0.22},{"p":"d","s":"collapsed","b":-100,"m":-0.22},{"p":"d","s":"collapsed","b":-86,"m":-0.22},{"p":"d","s":"collapsed","b":-73,"m":-0.22},{"p":"d","s":"collapsed","b":-63,"m":-0.2},{"p":"d","s":"collapsed","b":-53,"m":-0.18},{"p":"d","s":"collapsed","b":-42,"m":-0.11},{"p":"d","s":"collapsed","b":-32,"m":0.0},{"p":"d","s":"collapsed","b":-22,"m":0.1},{"p":"d","s":"collapsed","b":-12,"m":0.17},{"p":"d","s":"collapsed","b":0,"m":0.22},
{"p":"e","s":"intact","b":-200,"m":-0.51},{"p":"e","s":"intact","b":-160,"m":-0.51},{"p":"e","s":"intact","b":-135,"m":-0.51},{"p":"e","s":"intact","b":-122,"m":-0.47},{"p":"e","s":"intact","b":-112,"m":-0.41},{"p":"e","s":"intact","b":-102,"m":-0.24},{"p":"e","s":"intact","b":-92,"m":-0.01},{"p":"e","s":"intact","b":-82,"m":0.23},{"p":"e","s":"intact","b":-72.5,"m":0.39},{"p":"e","s":"intact","b":-62.5,"m":0.48},{"p":"e","s":"intact","b":-49.5,"m":0.52},{"p":"e","s":"intact","b":-25,"m":0.53},{"p":"e","s":"intact","b":0,"m":0.53},
{"p":"e","s":"collapsed","b":-200,"m":-0.52},{"p":"e","s":"collapsed","b":-160,"m":-0.52},{"p":"e","s":"collapsed","b":-135,"m":-0.51},{"p":"e","s":"collapsed","b":-115,"m":-0.44},{"p":"e","s":"collapsed","b":-102,"m":-0.29},{"p":"e","s":"collapsed","b":-92,"m":-0.02},{"p":"e","s":"collapsed","b":-82,"m":0.13},{"p":"e","s":"collapsed","b":-72.5,"m":0.24},{"p":"e","s":"collapsed","b":-59,"m":0.39},{"p":"e","s":"collapsed","b":-46,"m":0.46},{"p":"e","s":"collapsed","b":-30,"m":0.49},{"p":"e","s":"collapsed","b":0,"m":0.5},
{"p":"f","s":"intact","b":-200,"m":-0.48},{"p":"f","s":"intact","b":-180,"m":-0.47},{"p":"f","s":"intact","b":-153,"m":-0.45},{"p":"f","s":"intact","b":-133,"m":-0.4},{"p":"f","s":"intact","b":-120,"m":-0.3},{"p":"f","s":"intact","b":-113,"m":-0.16},{"p":"f","s":"intact","b":-106,"m":0.02},{"p":"f","s":"intact","b":-100,"m":0.27},{"p":"f","s":"intact","b":-93,"m":0.4},{"p":"f","s":"intact","b":-79,"m":0.46},{"p":"f","s":"intact","b":-59,"m":0.46},{"p":"f","s":"intact","b":0,"m":0.46},
{"p":"f","s":"collapsed","b":-200,"m":-0.5},{"p":"f","s":"collapsed","b":-180,"m":-0.49},{"p":"f","s":"collapsed","b":-153,"m":-0.48},{"p":"f","s":"collapsed","b":-133,"m":-0.44},{"p":"f","s":"collapsed","b":-116,"m":-0.33},{"p":"f","s":"collapsed","b":-106,"m":-0.13},{"p":"f","s":"collapsed","b":-100,"m":0.07},{"p":"f","s":"collapsed","b":-93,"m":0.26},{"p":"f","s":"collapsed","b":-86,"m":0.36},{"p":"f","s":"collapsed","b":-73,"m":0.44},{"p":"f","s":"collapsed","b":-52,"m":0.49},{"p":"f","s":"collapsed","b":0,"m":0.5}
]
},
"columns": 2,
"bounds": "flush",
"spacing": {"row": 43, "column": 58},
"resolve": {"scale": {"strokeDash": "independent"}, "legend": {"strokeDash": "independent"}},
"concat": [
{"width": 308, "height": 120, "title": {"text": "(a)\u2003cuboctahedron MSR-1"},
 "layer": [
  {"data": {"name": "h"}, "transform": [{"filter": "datum.p == 'a'"}],
   "mark": {"type": "line", "color": "#EF8A4C", "strokeWidth": 1.6, "clip": true},
   "encoding": {
    "x": {"field": "b", "type": "quantitative", "scale": {"domain": [-300, 300], "range": [0, 199], "nice": false, "zero": false}, "axis": {"orient": "bottom", "values": [-200, -100, 100, 200], "offset": -60, "title": "field (mT)", "titleX": 197, "titleY": -3, "titleAlign": "right", "titleBaseline": "bottom", "labelPadding": 1}},
    "y": {"field": "m", "type": "quantitative", "scale": {"domain": [-1, 1], "nice": false}, "axis": {"orient": "left", "values": [-1, -0.5, 0.5, 1], "format": ".1f", "offset": -99.5, "title": "M/M\u209b", "titleAngle": 0, "titleX": -12, "titleY": 9, "titleAlign": "right", "titleBaseline": "middle", "titleFontStyle": "italic", "labelAlign": {"condition": {"test": "datum.value < 0", "value": "left"}, "value": "right"}, "labelPadding": {"condition": {"test": "datum.value < 0", "value": -5}, "value": 0}}},
    "detail": {"field": "r"},
    "strokeDash": {"field": "s", "type": "nominal", "scale": {"domain": ["intact", "collapsed"], "range": [[1, 0], [5, 3]]}, "legend": {"orient": "none", "legendX": 136, "legendY": 94, "title": null, "symbolType": "stroke", "symbolStrokeColor": "#EF8A4C", "symbolStrokeWidth": 1.6, "symbolSize": 200, "labelOffset": 9, "rowPadding": 0}}
   }},
  {"data": {"name": "f"}, "transform": [{"filter": "datum.p == 'a'"}],
   "mark": {"type": "line", "color": "#EF8A4C", "strokeWidth": 1.6, "clip": true},
   "encoding": {
    "x": {"field": "b", "type": "quantitative", "scale": {"domain": [-128, 0], "range": [207, 308], "nice": false, "zero": false}, "axis": {"orient": "bottom", "values": [-80, -40], "offset": -60, "title": "field (mT)", "titleX": 210, "titleY": -3, "titleAlign": "left", "titleBaseline": "bottom", "labelPadding": 1}},
    "y": {"field": "m", "type": "quantitative", "scale": {"domain": [-0.6, 0.6], "nice": false}, "axis": {"orient": "right", "values": [-0.6, -0.4, -0.2, 0, 0.2, 0.4, 0.6], "labelExpr": "datum.value == 0 ? '0' : format(datum.value, '.1f')", "title": "normalized back-field IRM", "titleAngle": 270, "titleX": 31, "titleY": 60, "titleAlign": "center", "titleBaseline": "middle", "labelPadding": 2}},
    "strokeDash": {"field": "s", "type": "nominal", "scale": {"domain": ["intact", "collapsed"], "range": [[1, 0], [5, 3]]}}
   }}
 ],
 "resolve": {"scale": {"x": "independent", "y": "independent"}, "axis": {"x": "independent", "y": "independent"}}
},
{"width": 308, "height": 120, "title": {"text": "(b)\u2003cuboctahedron AMB-1"},
 "layer": [
  {"data": {"name": "h"}, "transform": [{"filter": "datum.p == 'b'"}],
   "mark": {"type": "line", "color": "#EF8A4C", "strokeWidth": 1.6, "clip": true},
   "encoding": {
    "x": {"field": "b", "type": "quantitative", "scale": {"domain": [-300, 300], "range": [0, 199], "nice": false, "zero": false}, "axis": {"orient": "bottom", "values": [-200, -100, 100, 200], "offset": -60, "title": "field (mT)", "titleX": 197, "titleY": -3, "titleAlign": "right", "titleBaseline": "bottom", "labelPadding": 1}},
    "y": {"field": "m", "type": "quantitative", "scale": {"domain": [-1, 1], "nice": false}, "axis": {"orient": "left", "values": [-1, -0.5, 0.5, 1], "format": ".1f", "offset": -99.5, "title": "M/M\u209b", "titleAngle": 0, "titleX": -12, "titleY": 9, "titleAlign": "right", "titleBaseline": "middle", "titleFontStyle": "italic", "labelAlign": {"condition": {"test": "datum.value < 0", "value": "left"}, "value": "right"}, "labelPadding": {"condition": {"test": "datum.value < 0", "value": -5}, "value": 0}}},
    "detail": {"field": "r"},
    "strokeDash": {"field": "s", "type": "nominal", "scale": {"domain": ["intact", "collapsed"], "range": [[1, 0], [5, 3]]}, "legend": null}
   }},
  {"data": {"name": "f"}, "transform": [{"filter": "datum.p == 'b'"}],
   "mark": {"type": "line", "color": "#EF8A4C", "strokeWidth": 1.6, "clip": true},
   "encoding": {
    "x": {"field": "b", "type": "quantitative", "scale": {"domain": [-126, 0], "range": [209, 308], "nice": false, "zero": false}, "axis": {"orient": "bottom", "values": [-80, -40], "offset": -60, "title": "field (mT)", "titleX": 212, "titleY": -3, "titleAlign": "left", "titleBaseline": "bottom", "labelPadding": 1}},
    "y": {"field": "m", "type": "quantitative", "scale": {"domain": [-0.6, 0.6], "nice": false}, "axis": {"orient": "right", "values": [-0.6, -0.4, -0.2, 0, 0.2, 0.4, 0.6], "labelExpr": "datum.value == 0 ? '0' : format(datum.value, '.1f')", "title": "normalized back-field IRM", "titleAngle": 270, "titleX": 31, "titleY": 60, "titleAlign": "center", "titleBaseline": "middle", "labelPadding": 2}},
    "strokeDash": {"field": "s", "type": "nominal", "scale": {"domain": ["intact", "collapsed"], "range": [[1, 0], [5, 3]]}, "legend": null}
   }}
 ],
 "resolve": {"scale": {"x": "independent", "y": "independent"}, "axis": {"x": "independent", "y": "independent"}}
},
{"width": 308, "height": 120, "title": {"text": "(c)\u2003prism SHHR-1"},
 "layer": [
  {"data": {"name": "h"}, "transform": [{"filter": "datum.p == 'c'"}],
   "mark": {"type": "line", "color": "#2E9E44", "strokeWidth": 1.6, "clip": true},
   "encoding": {
    "x": {"field": "b", "type": "quantitative", "scale": {"domain": [-475, 475], "range": [0, 199], "nice": false, "zero": false}, "axis": {"orient": "bottom", "values": [-400, -200, 200, 400], "offset": -60, "title": "field (mT)", "titleX": 197, "titleY": -3, "titleAlign": "right", "titleBaseline": "bottom", "labelPadding": 1}},
    "y": {"field": "m", "type": "quantitative", "scale": {"domain": [-1, 1], "nice": false}, "axis": {"orient": "left", "values": [-1, -0.5, 0.5, 1], "format": ".1f", "offset": -99.5, "title": "M/M\u209b", "titleAngle": 0, "titleX": -12, "titleY": 9, "titleAlign": "right", "titleBaseline": "middle", "titleFontStyle": "italic", "labelAlign": {"condition": {"test": "datum.value < 0", "value": "left"}, "value": "right"}, "labelPadding": {"condition": {"test": "datum.value < 0", "value": -5}, "value": 0}}},
    "detail": {"field": "r"},
    "strokeDash": {"field": "s", "type": "nominal", "scale": {"domain": ["intact", "collapsed"], "range": [[1, 0], [5, 3]]}, "legend": {"orient": "none", "legendX": 136, "legendY": 93, "title": null, "symbolType": "stroke", "symbolStrokeColor": "#2E9E44", "symbolStrokeWidth": 1.6, "symbolSize": 200, "labelOffset": 9, "rowPadding": 0}}
   }},
  {"data": {"name": "f"}, "transform": [{"filter": "datum.p == 'c'"}],
   "mark": {"type": "line", "color": "#2E9E44", "strokeWidth": 1.6, "clip": true},
   "encoding": {
    "x": {"field": "b", "type": "quantitative", "scale": {"domain": [-200, 0], "range": [207, 308], "nice": false, "zero": false}, "axis": {"orient": "bottom", "values": [-150, -100, -50], "offset": -60, "title": "field (mT)", "titleX": 210, "titleY": -3, "titleAlign": "left", "titleBaseline": "bottom", "labelPadding": 1}},
    "y": {"field": "m", "type": "quantitative", "scale": {"domain": [-0.6, 0.6], "nice": false}, "axis": {"orient": "right", "values": [-0.6, -0.4, -0.2, 0, 0.2, 0.4, 0.6], "labelExpr": "datum.value == 0 ? '0' : format(datum.value, '.1f')", "title": "normalized back-field IRM", "titleAngle": 270, "titleX": 31, "titleY": 60, "titleAlign": "center", "titleBaseline": "middle", "labelPadding": 2}},
    "strokeDash": {"field": "s", "type": "nominal", "scale": {"domain": ["intact", "collapsed"], "range": [[1, 0], [5, 3]]}}
   }}
 ],
 "resolve": {"scale": {"x": "independent", "y": "independent"}, "axis": {"x": "independent", "y": "independent"}}
},
{"width": 308, "height": 120, "title": {"text": "(d)\u2003prism XJHC-1"},
 "layer": [
  {"data": {"name": "h"}, "transform": [{"filter": "datum.p == 'd'"}],
   "mark": {"type": "line", "color": "#2E9E44", "strokeWidth": 1.6, "clip": true},
   "encoding": {
    "x": {"field": "b", "type": "quantitative", "scale": {"domain": [-475, 475], "range": [0, 199], "nice": false, "zero": false}, "axis": {"orient": "bottom", "values": [-400, -200, 200, 400], "offset": -60, "title": "field (mT)", "titleX": 197, "titleY": -3, "titleAlign": "right", "titleBaseline": "bottom", "labelPadding": 1}},
    "y": {"field": "m", "type": "quantitative", "scale": {"domain": [-1, 1], "nice": false}, "axis": {"orient": "left", "values": [-1, -0.5, 0.5, 1], "format": ".1f", "offset": -99.5, "title": "M/M\u209b", "titleAngle": 0, "titleX": -12, "titleY": 9, "titleAlign": "right", "titleBaseline": "middle", "titleFontStyle": "italic", "labelAlign": {"condition": {"test": "datum.value < 0", "value": "left"}, "value": "right"}, "labelPadding": {"condition": {"test": "datum.value < 0", "value": -5}, "value": 0}}},
    "detail": {"field": "r"},
    "strokeDash": {"field": "s", "type": "nominal", "scale": {"domain": ["intact", "collapsed"], "range": [[1, 0], [5, 3]]}, "legend": null}
   }},
  {"data": {"name": "f"}, "transform": [{"filter": "datum.p == 'd'"}],
   "mark": {"type": "line", "color": "#2E9E44", "strokeWidth": 1.6, "clip": true},
   "encoding": {
    "x": {"field": "b", "type": "quantitative", "scale": {"domain": [-200, 0], "range": [209, 308], "nice": false, "zero": false}, "axis": {"orient": "bottom", "values": [-150, -100, -50], "offset": -60, "title": "field (mT)", "titleX": 212, "titleY": -3, "titleAlign": "left", "titleBaseline": "bottom", "labelPadding": 1}},
    "y": {"field": "m", "type": "quantitative", "scale": {"domain": [-0.6, 0.6], "nice": false}, "axis": {"orient": "right", "values": [-0.6, -0.4, -0.2, 0, 0.2, 0.4, 0.6], "labelExpr": "datum.value == 0 ? '0' : format(datum.value, '.1f')", "title": "normalized back-field IRM", "titleAngle": 270, "titleX": 31, "titleY": 60, "titleAlign": "center", "titleBaseline": "middle", "labelPadding": 2}},
    "strokeDash": {"field": "s", "type": "nominal", "scale": {"domain": ["intact", "collapsed"], "range": [[1, 0], [5, 3]]}, "legend": null}
   }}
 ],
 "resolve": {"scale": {"x": "independent", "y": "independent"}, "axis": {"x": "independent", "y": "independent"}}
},
{"width": 308, "height": 120, "title": {"text": "(e)\u2003bullet WYHR-1"},
 "layer": [
  {"data": {"name": "h"}, "transform": [{"filter": "datum.p == 'e'"}],
   "mark": {"type": "line", "color": "#4A7FD4", "strokeWidth": 1.6, "clip": true},
   "encoding": {
    "x": {"field": "b", "type": "quantitative", "scale": {"domain": [-475, 475], "range": [0, 199], "nice": false, "zero": false}, "axis": {"orient": "bottom", "values": [-400, -200, 200, 400], "offset": -60, "title": "field (mT)", "titleX": 197, "titleY": -3, "titleAlign": "right", "titleBaseline": "bottom", "labelPadding": 1}},
    "y": {"field": "m", "type": "quantitative", "scale": {"domain": [-1, 1], "nice": false}, "axis": {"orient": "left", "values": [-1, -0.5, 0.5, 1], "format": ".1f", "offset": -99.5, "title": "M/M\u209b", "titleAngle": 0, "titleX": -12, "titleY": 9, "titleAlign": "right", "titleBaseline": "middle", "titleFontStyle": "italic", "labelAlign": {"condition": {"test": "datum.value < 0", "value": "left"}, "value": "right"}, "labelPadding": {"condition": {"test": "datum.value < 0", "value": -5}, "value": 0}}},
    "detail": {"field": "r"},
    "strokeDash": {"field": "s", "type": "nominal", "scale": {"domain": ["intact", "collapsed"], "range": [[1, 0], [5, 3]]}, "legend": {"orient": "none", "legendX": 136, "legendY": 93, "title": null, "symbolType": "stroke", "symbolStrokeColor": "#4A7FD4", "symbolStrokeWidth": 1.6, "symbolSize": 200, "labelOffset": 9, "rowPadding": 0}}
   }},
  {"data": {"name": "f"}, "transform": [{"filter": "datum.p == 'e'"}],
   "mark": {"type": "line", "color": "#4A7FD4", "strokeWidth": 1.6, "clip": true},
   "encoding": {
    "x": {"field": "b", "type": "quantitative", "scale": {"domain": [-200, 0], "range": [207, 308], "nice": false, "zero": false}, "axis": {"orient": "bottom", "values": [-150, -100, -50], "offset": -60, "title": "field (mT)", "titleX": 210, "titleY": -3, "titleAlign": "left", "titleBaseline": "bottom", "labelPadding": 1}},
    "y": {"field": "m", "type": "quantitative", "scale": {"domain": [-0.6, 0.6], "nice": false}, "axis": {"orient": "right", "values": [-0.6, -0.4, -0.2, 0, 0.2, 0.4, 0.6], "labelExpr": "datum.value == 0 ? '0' : format(datum.value, '.1f')", "title": "normalized back-field IRM", "titleAngle": 270, "titleX": 31, "titleY": 60, "titleAlign": "center", "titleBaseline": "middle", "labelPadding": 2}},
    "strokeDash": {"field": "s", "type": "nominal", "scale": {"domain": ["intact", "collapsed"], "range": [[1, 0], [5, 3]]}}
   }}
 ],
 "resolve": {"scale": {"x": "independent", "y": "independent"}, "axis": {"x": "independent", "y": "independent"}}
},
{"width": 308, "height": 120, "title": {"text": "(f)\u2003bullet rod"},
 "layer": [
  {"data": {"name": "h"}, "transform": [{"filter": "datum.p == 'f'"}],
   "mark": {"type": "line", "color": "#4A7FD4", "strokeWidth": 1.6, "clip": true},
   "encoding": {
    "x": {"field": "b", "type": "quantitative", "scale": {"domain": [-475, 475], "range": [0, 199], "nice": false, "zero": false}, "axis": {"orient": "bottom", "values": [-400, -200, 200, 400], "offset": -60, "title": "field (mT)", "titleX": 197, "titleY": -3, "titleAlign": "right", "titleBaseline": "bottom", "labelPadding": 1}},
    "y": {"field": "m", "type": "quantitative", "scale": {"domain": [-1, 1], "nice": false}, "axis": {"orient": "left", "values": [-1, -0.5, -0.4999, 0.5, 1], "format": ".1f", "offset": -99.5, "title": "M/M\u209b", "titleAngle": 0, "titleX": -12, "titleY": 9, "titleAlign": "right", "titleBaseline": "middle", "titleFontStyle": "italic", "labelAlign": {"condition": {"test": "datum.value <= -0.5", "value": "left"}, "value": "right"}, "labelPadding": {"condition": {"test": "datum.value <= -0.5", "value": -5}, "value": 0}}},
    "detail": {"field": "r"},
    "strokeDash": {"field": "s", "type": "nominal", "scale": {"domain": ["intact", "collapsed"], "range": [[1, 0], [5, 3]]}, "legend": null}
   }},
  {"data": {"name": "f"}, "transform": [{"filter": "datum.p == 'f'"}],
   "mark": {"type": "line", "color": "#4A7FD4", "strokeWidth": 1.6, "clip": true},
   "encoding": {
    "x": {"field": "b", "type": "quantitative", "scale": {"domain": [-200, 0], "range": [209, 308], "nice": false, "zero": false}, "axis": {"orient": "bottom", "values": [-150, -100, -50], "offset": -60, "title": "field (mT)", "titleX": 212, "titleY": -3, "titleAlign": "left", "titleBaseline": "bottom", "labelPadding": 1}},
    "y": {"field": "m", "type": "quantitative", "scale": {"domain": [-0.6, 0.6], "nice": false}, "axis": {"orient": "right", "values": [-0.6, -0.4, -0.2, 0, 0.2, 0.4, 0.6], "labelExpr": "datum.value == 0 ? '0' : format(datum.value, '.1f')", "title": "normalized back-field IRM", "titleAngle": 270, "titleX": 31, "titleY": 60, "titleAlign": "center", "titleBaseline": "middle", "labelPadding": 2}},
    "strokeDash": {"field": "s", "type": "nominal", "scale": {"domain": ["intact", "collapsed"], "range": [[1, 0], [5, 3]]}, "legend": null}
   }}
 ],
 "resolve": {"scale": {"x": "independent", "y": "independent"}, "axis": {"x": "independent", "y": "independent"}}
}
]
}
